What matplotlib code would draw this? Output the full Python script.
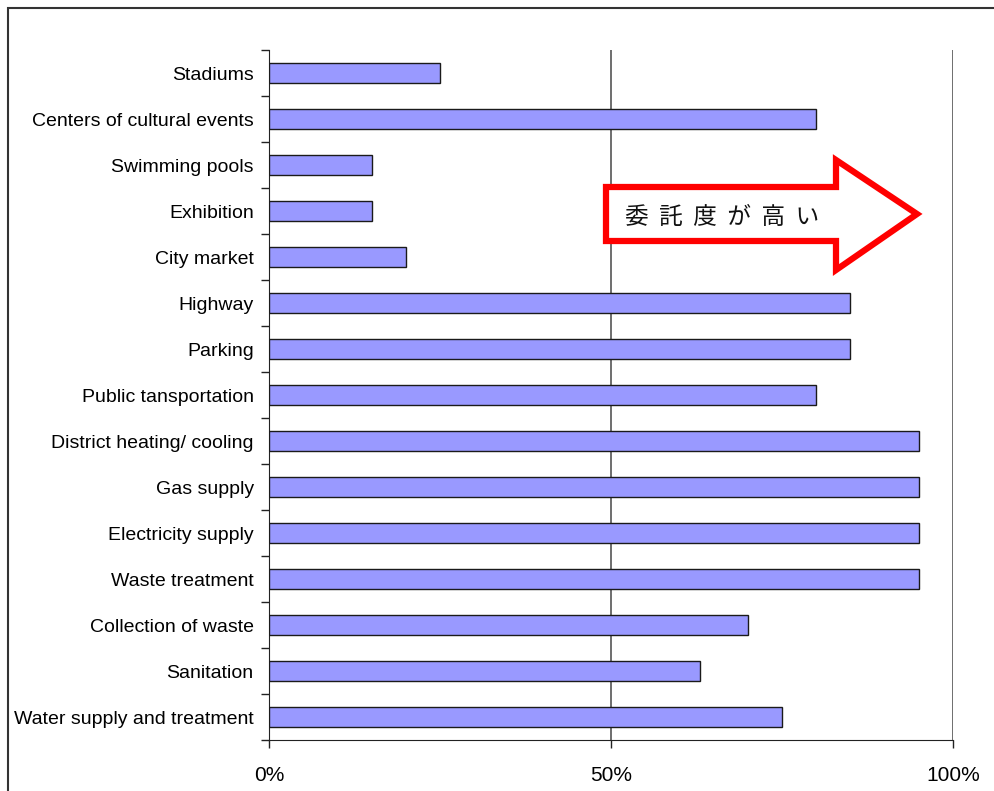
import matplotlib
matplotlib.use("Agg")
import matplotlib.pyplot as plt
from matplotlib.patches import Polygon, Rectangle
from matplotlib.ticker import FixedLocator

categories = [
    "Stadiums",
    "Centers of cultural events",
    "Swimming pools",
    "Exhibition",
    "City market",
    "Highway",
    "Parking",
    "Public tansportation",
    "District heating/ cooling",
    "Gas supply",
    "Electricity supply",
    "Waste treatment",
    "Collection of waste",
    "Sanitation",
    "Water supply and treatment",
]
values = [25, 80, 15, 15, 20, 85, 85, 80, 95, 95, 95, 95, 70, 63, 75]
xticks = [0, 50, 100]
xtick_labels = ["0%", "50%", "100%"]
arrow_text = "委  託  度  が  高  い"

W, H = 995, 791
fig = plt.figure(figsize=(W / 100, H / 100), dpi=100)
fig.patch.set_facecolor("white")

# outer frame (open to the right/bottom like the reference crop)
fig.add_artist(Rectangle((8 / W, -0.05), 1.2, (H - 8) / H + 0.05,
                         transform=fig.transFigure, fill=False,
                         edgecolor="#333333", linewidth=1.5))

ax = fig.add_axes([269 / W, 1 - 740 / H, (953 - 269) / W, (740 - 50) / H])

n = len(categories)
ypos = list(range(n))
ax.barh(ypos, values, height=0.42, color="#9999FF", edgecolor="#1a1a1a",
        linewidth=1.0, zorder=3)
ax.set_ylim(n - 0.5, -0.5)
ax.set_xlim(0, 100)

# gridlines
for xv in xticks[1:]:
    ax.axvline(xv, color="#555555", linewidth=1.2, zorder=1)

for s in ["top", "right"]:
    ax.spines[s].set_visible(False)
ax.spines["left"].set_color("#222222")
ax.spines["bottom"].set_color("#222222")

ax.set_yticks(ypos)
ax.set_yticklabels(categories, fontsize=14, family="Liberation Sans")
ax.tick_params(axis="y", which="major", length=0, pad=11)
ax.yaxis.set_minor_locator(FixedLocator([i - 0.5 for i in range(n + 1)]))
ax.tick_params(axis="y", which="minor", length=6, width=1, color="#222222")

ax.set_xticks(xticks)
ax.set_xticklabels(xtick_labels, fontsize=15, family="Liberation Sans")
ax.tick_params(axis="x", which="major", length=6, width=1, color="#222222", pad=13)

# red outlined arrow (positioned in axes data coords)
arrow_pts_px = [(606, 187), (836, 187), (836, 160), (917, 214),
                (836, 270), (836, 241), (606, 241)]
arrow_pts = [ax.transData.inverted().transform((x, H - y)) for x, y in arrow_pts_px]
poly = Polygon(arrow_pts, closed=True, facecolor="white", edgecolor="#FF0000",
               linewidth=4.5, zorder=5, clip_on=False, joinstyle="miter")
ax.add_patch(poly)
tx, ty = ax.transData.inverted().transform((625, H - 217))
ax.text(tx, ty, arrow_text, fontsize=17, family=["Noto Sans CJK JP", "DejaVu Sans"],
        ha="left", va="center", zorder=6, color="#111111")

fig.savefig("out.png", dpi=100, facecolor="white")
